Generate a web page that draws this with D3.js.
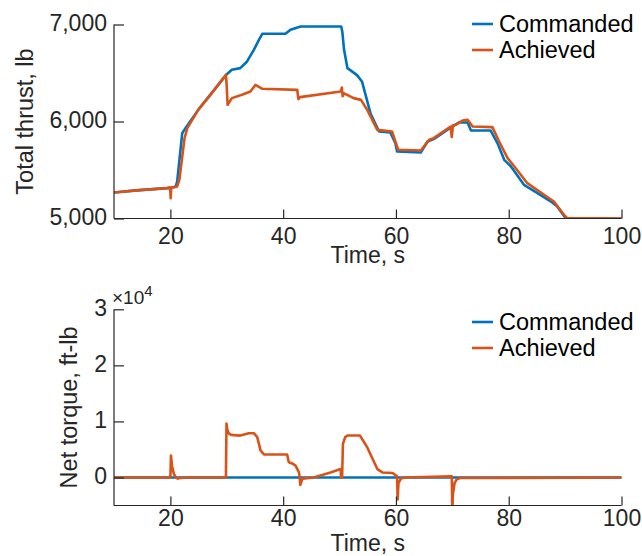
<!DOCTYPE html>
<html>
<head>
<meta charset="utf-8">
<script src="https://cdn.jsdelivr.net/npm/d3@7/dist/d3.min.js"></script>
<style>
  html, body { margin: 0; padding: 0; background: #fff; }
  svg { display: block; font-family: "Liberation Sans", Arial, Helvetica, sans-serif; }
  .axis path, .axis line { stroke: #262626; stroke-width: 1.2; }
  .axis text { fill: #262626; font-size: 23px; font-family: "Liberation Sans", Arial, sans-serif; }
</style>
</head>
<body>
<svg id="chart" width="642" height="556"></svg>
<script>
// ---- Data ----
const seriesNames = ["Commanded", "Achieved"];
const xTicks = [20, 40, 60, 80, 100];
const thrustTicks = [5000, 6000, 7000];
const torqueTicks = [0, 1, 2, 3];   // ×10^4 ft-lb

// Total thrust (lb) – commanded
const thrustCmdT = [10, 14, 19.4, 20.9, 21.2, 22.1, 22.7, 25, 27.5, 29.9, 30.9, 32.4, 33.6, 34.8, 35.7, 36.3, 40.4, 41.3, 43.1, 50.3, 50.5, 50.8, 51.4, 53.1, 54.0, 55.5, 57.0, 59.0, 59.9, 60.2, 64.4, 65.6, 66.7, 70.0, 71.2, 72.7, 73.3, 76.8, 78.0, 79.2, 80.4, 82.7, 85.1, 87.5, 88.6, 90.1, 100];
const thrustCmdV = [5268, 5290, 5313, 5324, 5380, 5880, 5932, 6125, 6305, 6481, 6533, 6550, 6619, 6739, 6842, 6904, 6904, 6946, 6980, 6980, 6920, 6739, 6550, 6478, 6409, 6082, 5897, 5887, 5777, 5691, 5680, 5794, 5818, 5948, 5990, 5990, 5907, 5907, 5777, 5605, 5536, 5347, 5262, 5175, 5124, 5004, 5000];

// Total thrust (lb) – achieved
const thrustAchT = [10, 14, 19.4, 19.95, 20.05, 20.15, 20.6, 21.2, 21.6, 22.5, 23.0, 25, 27.5, 29.85, 29.95, 30.15, 30.9, 32.7, 34.2, 35.1, 36.3, 42.5, 42.7, 43.0, 50.2, 50.4, 50.55, 50.8, 52.5, 53.8, 54.9, 56.7, 59.3, 59.9, 60.4, 64.4, 65.9, 66.7, 69.7, 69.9, 70.1, 70.6, 71.8, 72.7, 73.6, 77.1, 78.3, 79.8, 81.0, 83.3, 85.7, 88.0, 89.8, 90.4, 100];
const thrustAchV = [5268, 5290, 5313, 5320, 5210, 5320, 5325, 5330, 5400, 5825, 5932, 6125, 6305, 6481, 6400, 6172, 6241, 6275, 6309, 6378, 6337, 6326, 6230, 6251, 6309, 6350, 6260, 6290, 6241, 6223, 6120, 5914, 5897, 5794, 5708, 5701, 5811, 5828, 5948, 5840, 5960, 5966, 6010, 6017, 5948, 5942, 5794, 5622, 5536, 5364, 5268, 5175, 5038, 5004, 5000];

// Net torque (×10^4 ft-lb) – commanded
const torqueCmdT = [10, 100];
const torqueCmdV = [0, 0];

// Net torque (×10^4 ft-lb) – achieved
const torqueAchT = [10, 20.0, 20.1, 20.3, 20.6, 20.9, 21.3, 22.4, 29.85, 29.95, 30.1, 30.4, 30.8, 32.4, 33.9, 34.8, 35.4, 36.0, 36.6, 40.7, 41.0, 41.6, 42.2, 42.8, 42.9, 43.05, 43.4, 45.4, 48.4, 50.2, 50.25, 50.45, 50.6, 51.0, 51.4, 53.6, 54.9, 56.7, 57.6, 59.4, 60.2, 60.3, 60.45, 60.9, 61.5, 69.9, 70.0, 70.1, 70.4, 70.8, 71.4, 100];
const torqueAchV = [0, 0, 0.39, 0.2, 0.07, 0.01, -0.02, 0, 0, 0.96, 0.85, 0.78, 0.76, 0.747, 0.79, 0.79, 0.72, 0.48, 0.41, 0.41, 0.27, 0.25, 0.21, 0.09, 0.02, -0.13, -0.02, 0, 0.09, 0.15, 0.0, 0.0, 0.6, 0.72, 0.75, 0.75, 0.54, 0.15, 0.09, 0.08, 0.02, -0.39, -0.1, -0.02, 0, 0.02, -0.6, -0.3, -0.1, -0.03, -0.01, 0];

// ---- Drawing ----
const colors = ["#0072BD", "#D95319"];
const svg = d3.select("#chart");

function zip(T, V) { return T.map((t, i) => ({ t: t, v: V[i] })); }

function panel(opts) {
  const x = d3.scaleLinear().domain([10, 100]).range([opts.left, opts.right]);
  const y = d3.scaleLinear().domain(opts.yDomain).range([opts.bottom, opts.top]);
  const id = "clip" + opts.name;
  svg.append("clipPath").attr("id", id).append("rect")
    .attr("x", opts.left).attr("y", opts.top - 2)
    .attr("width", opts.right - opts.left + 2).attr("height", opts.bottom - opts.top + 2);

  const line = d3.line().x(d => x(d.t)).y(d => y(d.v));
  const g = svg.append("g").attr("clip-path", `url(#${id})`);
  opts.series.forEach((s, i) => {
    g.append("path").datum(s).attr("d", line)
      .attr("fill", "none").attr("stroke", colors[i])
      .attr("stroke-width", 2.6).attr("stroke-linejoin", "round");
  });

  // axes
  svg.append("g").attr("class", "axis")
    .attr("transform", `translate(0,${opts.bottom})`)
    .call(d3.axisBottom(x).tickValues(xTicks).tickSizeInner(-9).tickSizeOuter(0).tickPadding(opts.xPad))
    .call(a => a.select(".domain").attr("d", `M${opts.left},0H${opts.right}`));
  svg.append("g").attr("class", "axis")
    .attr("transform", `translate(${opts.left},0)`)
    .call(d3.axisLeft(y).tickValues(opts.yTicks).tickFormat(opts.fmt).tickSizeInner(-10).tickSizeOuter(0).tickPadding(7))
    .call(a => a.select(".domain").attr("d", `M0,${opts.bottom}V${opts.top}`))
    .call(a => a.selectAll(".tick text").attr("dy", "0.28em"));

  // axis titles
  svg.append("text").attr("x", (opts.left + opts.right) / 2).attr("y", opts.xTitleY)
    .attr("text-anchor", "middle").attr("font-size", 23).attr("fill", "#262626").text("Time, s");
  svg.append("text").attr("transform", `translate(${opts.yTitleX},${(opts.top + opts.bottom) / 2}) rotate(-90)`)
    .attr("text-anchor", "middle").attr("font-size", 23.5).attr("fill", "#262626").text(opts.yTitle);

  // legend
  seriesNames.forEach((n, i) => {
    const ly = opts.legendY + i * 26;
    svg.append("line").attr("x1", 472).attr("x2", 493).attr("y1", ly).attr("y2", ly)
      .attr("stroke", colors[i]).attr("stroke-width", 2.6);
    svg.append("text").attr("x", 499).attr("y", ly + 8).attr("font-size", 23.5)
      .attr("fill", "#000").text(n);
  });
  return { x, y };
}

panel({
  name: "top", left: 114, right: 621.5, top: 24.5, bottom: 218.5,
  yDomain: [5000, 7000], yTicks: thrustTicks, fmt: d3.format(","),
  series: [zip(thrustCmdT, thrustCmdV), zip(thrustAchT, thrustAchV)],
  xPad: 9, xTitleY: 263, yTitleX: 33, yTitle: "Total thrust, lb", legendY: 24
});

panel({
  name: "bot", left: 114, right: 621.5, top: 309.3, bottom: 505.5,
  yDomain: [-0.5, 3], yTicks: torqueTicks, fmt: d3.format("d"),
  series: [zip(torqueCmdT, torqueCmdV), zip(torqueAchT, torqueAchV)],
  xPad: 4, xTitleY: 551, yTitleX: 77, yTitle: "Net torque, ft-lb", legendY: 322
});

// exponent label
const ex = svg.append("text").attr("x", 112).attr("y", 304).attr("font-size", 19).attr("fill", "#262626");
ex.append("tspan").text("×10");
ex.append("tspan").attr("font-size", 15).attr("dy", -8).text("4");
</script>
</body>
</html>
